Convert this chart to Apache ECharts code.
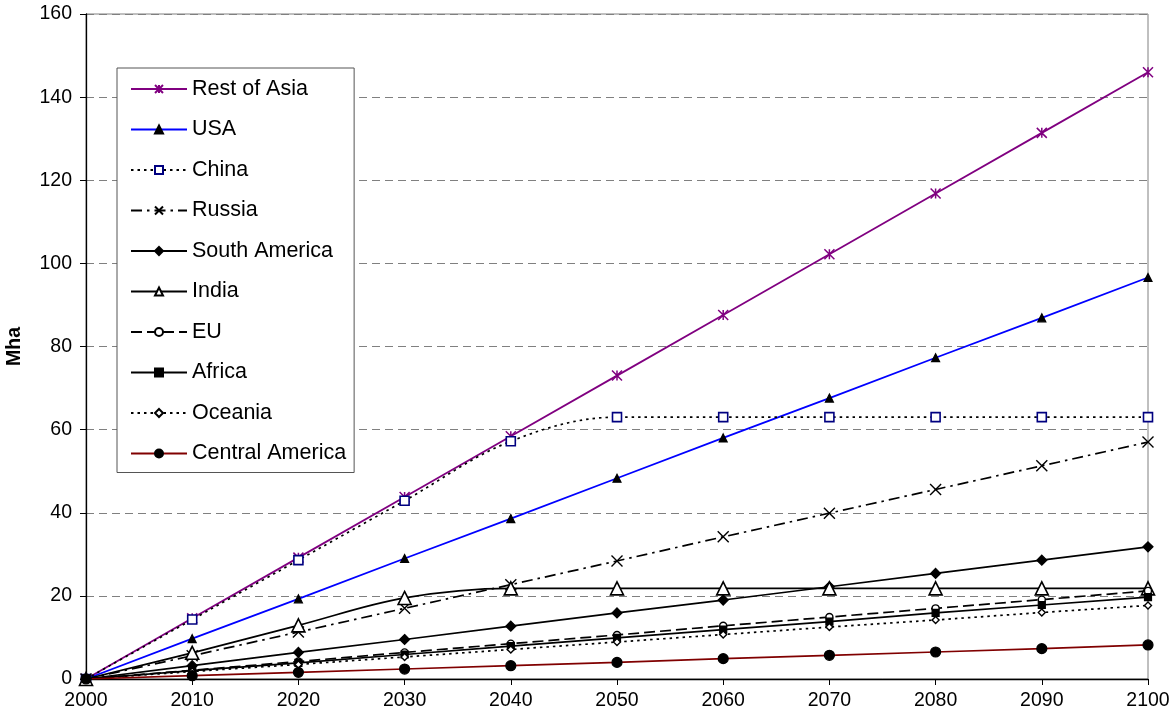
<!DOCTYPE html>
<html>
<head>
<meta charset="utf-8">
<script src="https://cdn.jsdelivr.net/npm/echarts@6/dist/echarts.min.js"></script>
<style>
  html, body { margin: 0; padding: 0; background: #fff; }
  #chart { width: 1172px; height: 719px; }
</style>
</head>
<body>
<div id="chart"></div>
<script>
// Cropland expansion by region, million hectares
const years = [2000, 2010, 2020, 2030, 2040, 2050, 2060, 2070, 2080, 2090, 2100];
const yTicks = [0, 20, 40, 60, 80, 100, 120, 140, 160];

const restOfAsia     = [0, 14.6, 29.2, 43.8, 58.4, 73.0, 87.6, 102.2, 116.8, 131.4, 146.0];
const usa            = [0, 9.7, 19.3, 29.0, 38.6, 48.3, 58.0, 67.6, 77.3, 86.9, 96.6];
const china          = [0, 14.3, 28.6, 42.9, 57.2, 63.0, 63.0, 63.0, 63.0, 63.0, 63.0];
const russia         = [0, 5.6, 11.3, 17.0, 22.7, 28.4, 34.2, 39.9, 45.6, 51.3, 57.0];
const southAmerica   = [0, 3.2, 6.4, 9.5, 12.7, 15.9, 19.0, 22.2, 25.4, 28.6, 31.8];
const india          = [0, 6.3, 12.9, 19.5, 21.8, 21.8, 21.8, 21.8, 21.8, 21.8, 21.8];
const eu             = [0, 2.1, 4.2, 6.4, 8.5, 10.6, 12.8, 14.9, 17.0, 19.1, 21.2];
const africa         = [0, 2.0, 3.9, 5.9, 7.9, 9.9, 11.9, 13.8, 15.9, 17.8, 19.7];
const oceania        = [0, 1.8, 3.5, 5.3, 7.1, 8.9, 10.7, 12.5, 14.2, 16.0, 17.7];
const centralAmerica = [0, 0.8, 1.6, 2.4, 3.2, 4.0, 4.9, 5.7, 6.5, 7.3, 8.2];

const FONT = '"Liberation Sans", Arial, sans-serif';

const ASTERISK = 'path://M0,0L10,10M10,0L0,10M5,0L5,10';
const CROSS = 'path://M0,0L10,10M10,0L0,10';

function pairs(values) {
  return years.map((y, i) => [y, values[i]]);
}

function makeSeries(name, values, opt) {
  return {
    name: name,
    type: 'line',
    data: pairs(values),
    smooth: opt.smooth || false,
    symbol: opt.symbol,
    symbolSize: opt.size,
    symbolKeepAspect: true,
    showAllSymbol: true,
    z: opt.z || 2,
    lineStyle: { color: opt.line, width: opt.width || 1.7, type: opt.dash || 'solid', cap: 'butt' },
    itemStyle: { color: opt.fill, borderColor: opt.stroke, borderWidth: opt.bw || 1.2 },
    emphasis: { disabled: true },
    animation: false
  };
}

const series = [
  makeSeries('Rest of Asia', restOfAsia, { symbol: ASTERISK, size: 10, line: '#800080', fill: '#800080', stroke: '#800080', bw: 1.5, width: 1.8 }),
  makeSeries('USA', usa, { symbol: 'triangle', size: 8, line: '#0000ff', fill: '#000', stroke: '#000', width: 1.8 }),
  makeSeries('China', china, { symbol: 'rect', size: 9, line: '#000', fill: '#fff', stroke: '#000080', bw: 1.6, dash: [2.5, 4], smooth: 0.35 }),
  makeSeries('Russia', russia, { symbol: CROSS, size: 11, line: '#000', fill: '#000', stroke: '#000', bw: 1.4, dash: [11, 5, 2.5, 5] }),
  makeSeries('South America', southAmerica, { symbol: 'diamond', size: 10, line: '#000', fill: '#000', stroke: '#000' }),
  makeSeries('India', india, { symbol: 'triangle', size: 13, line: '#000', fill: '#fff', stroke: '#000', bw: 1.6, smooth: 0.35 }),
  makeSeries('EU', eu, { symbol: 'circle', size: 7, line: '#000', fill: '#fff', stroke: '#000', bw: 1.4, dash: [11, 5] }),
  makeSeries('Africa', africa, { symbol: 'rect', size: 7, line: '#000', fill: '#000', stroke: '#000' }),
  makeSeries('Oceania', oceania, { symbol: 'diamond', size: 7, line: '#000', fill: '#fff', stroke: '#000', bw: 1.4, dash: [2.5, 4] }),
  makeSeries('Central America', centralAmerica, { symbol: 'circle', size: 10, line: '#800000', fill: '#000', stroke: '#000' })
];

const chart = echarts.init(document.getElementById('chart'), null, { renderer: 'canvas' });

chart.setOption({
  animation: false,
  backgroundColor: '#fff',
  grid: {
    left: 86, right: 24, top: 14, bottom: 40,
    outerBoundsMode: 'none',
    containLabel: false,
    show: true, borderColor: '#808080', borderWidth: 1, backgroundColor: 'transparent'
  },
  legend: {
    orient: 'vertical',
    left: 117, top: 68,
    padding: [9, 8, 7, 13],
    itemWidth: 56, itemHeight: 10, itemGap: 16.5,
    backgroundColor: '#fff',
    borderColor: '#555', borderWidth: 1,
    selectedMode: false,
    textStyle: { fontFamily: FONT, fontSize: 21.5, color: '#000', lineHeight: 24 },
    data: series.map(s => s.name)
  },
  xAxis: {
    type: 'value',
    min: 2000, max: 2100, interval: 10,
    axisLine: { show: true, lineStyle: { color: '#000', width: 1.3 } },
    axisTick: { show: true, inside: false, length: 6, lineStyle: { color: '#000' } },
    axisLabel: { fontFamily: FONT, fontSize: 19.5, color: '#000', margin: 12, formatter: v => String(v) },
    splitLine: { show: false }
  },
  yAxis: {
    type: 'value',
    min: yTicks[0], max: yTicks[yTicks.length - 1], interval: 20,
    name: 'Mha',
    nameLocation: 'middle',
    nameRotate: 90,
    nameGap: 61,
    nameTextStyle: { fontFamily: FONT, fontSize: 19.5, fontWeight: 'bold', color: '#000' },
    axisLine: { show: true, lineStyle: { color: '#000', width: 1.3 } },
    axisTick: { show: true, inside: false, length: 6, lineStyle: { color: '#000' } },
    axisLabel: { fontFamily: FONT, fontSize: 19.5, color: '#000', margin: 14 },
    splitLine: { show: true, lineStyle: { color: '#808080', width: 1, type: [8, 5] } }
  },
  series: series
});
</script>
</body>
</html>
